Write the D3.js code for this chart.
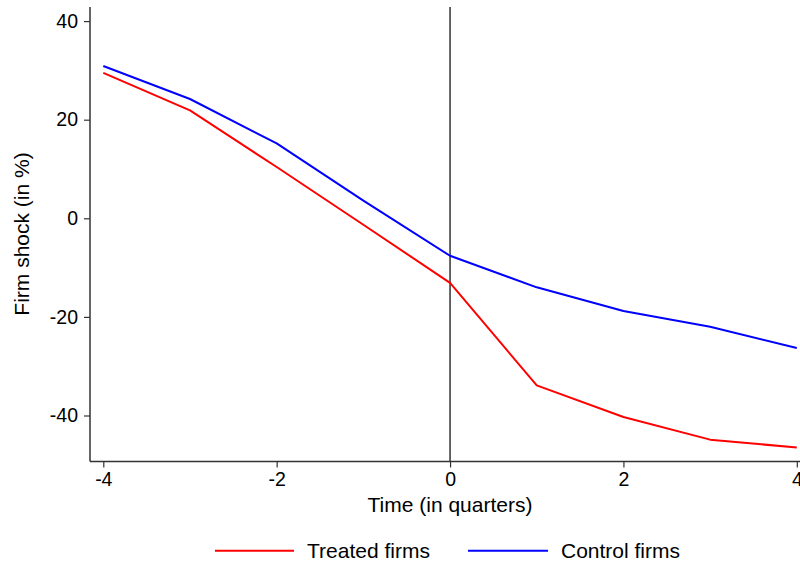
<!DOCTYPE html>
<html>
<head>
<meta charset="utf-8">
<script src="https://cdn.jsdelivr.net/npm/d3@7"></script>
<style>
  html, body { margin: 0; padding: 0; background: #fff; }
  svg { display: block; font-family: "Liberation Sans", Arial, Helvetica, sans-serif; }
</style>
</head>
<body>
<svg id="chart" width="800" height="565"></svg>
<script>
const quarters = [-4, -3, -2, -1, 0, 1, 2, 3, 4];
const treated = [29.5, 21.9, 10.4, -1.3, -13.1, -33.9, -40.3, -44.9, -46.5];
const control = [30.9, 24.2, 15.2, 3.6, -7.6, -14.0, -18.8, -22.0, -26.3];
const xTicks = [-4, -2, 0, 2, 4];
const yTicks = [-40, -20, 0, 20, 40];
const seriesNames = ["Treated firms", "Control firms"];
const seriesColors = ["#ff0000", "#0000ff"];

const svg = d3.select("#chart");
const x = d3.scaleLinear().domain([-4, 4]).range([103.3, 796.8]);
const y = d3.scaleLinear().domain([-40, 40]).range([415.5, 21.1]);
const axisLeftX = 90, axisBottomY = 461.5, plotTop = 7, plotRight = 800;
const axisColor = "#333";

// y axis
const yAxis = svg.append("g").attr("transform", `translate(${axisLeftX},0)`)
  .call(d3.axisLeft(y).tickValues(yTicks).tickSize(6).tickPadding(6).tickFormat(d3.format("d")));
yAxis.select(".domain").remove();
yAxis.selectAll(".tick line").attr("stroke", axisColor).attr("stroke-width", 1.2);
yAxis.selectAll(".tick text").attr("font-size", "19.5px").attr("fill", "#000")
  .attr("font-family", "Liberation Sans, Arial, sans-serif").text(d => d < 0 ? "-" + Math.abs(d) : d);

// x axis
const xAxis = svg.append("g").attr("transform", `translate(0,${axisBottomY})`)
  .call(d3.axisBottom(x).tickValues(xTicks).tickSize(6).tickPadding(5).tickFormat(d3.format("d")));
xAxis.select(".domain").remove();
xAxis.selectAll(".tick line").attr("stroke", axisColor).attr("stroke-width", 1.2);
xAxis.selectAll(".tick text").attr("font-size", "19.5px").attr("fill", "#000")
  .attr("font-family", "Liberation Sans, Arial, sans-serif").text(d => d < 0 ? "-" + Math.abs(d) : d);

// axis lines
svg.append("line").attr("x1", axisLeftX).attr("x2", axisLeftX).attr("y1", plotTop).attr("y2", axisBottomY)
  .attr("stroke", axisColor).attr("stroke-width", 1.5);
svg.append("line").attr("x1", axisLeftX).attr("x2", plotRight).attr("y1", axisBottomY).attr("y2", axisBottomY)
  .attr("stroke", axisColor).attr("stroke-width", 1.5);

// vertical reference line at 0
svg.append("line").attr("x1", x(0)).attr("x2", x(0)).attr("y1", plotTop).attr("y2", axisBottomY)
  .attr("stroke", "#333").attr("stroke-width", 1.5);

// lines
const line = d3.line().x((d, i) => x(quarters[i])).y(d => y(d));
[treated, control].forEach((s, k) => {
  svg.append("path").datum(s).attr("d", line).attr("fill", "none")
    .attr("stroke", seriesColors[k]).attr("stroke-width", 2).attr("stroke-linejoin", "round");
});

// titles
svg.append("text").attr("x", 450).attr("y", 512).attr("text-anchor", "middle")
  .attr("font-size", "21px").attr("fill", "#000").text("Time (in quarters)");
svg.append("text").attr("transform", "translate(29,234) rotate(-90)").attr("text-anchor", "middle")
  .attr("font-size", "21px").attr("fill", "#000").text("Firm shock (in %)");

// legend
const legendItems = [
  { x1: 215, x2: 294, tx: 307 },
  { x1: 468, x2: 548, tx: 561 }
];
legendItems.forEach((it, k) => {
  svg.append("line").attr("x1", it.x1).attr("x2", it.x2).attr("y1", 550.7).attr("y2", 550.7)
    .attr("stroke", seriesColors[k]).attr("stroke-width", 2);
  svg.append("text").attr("x", it.tx).attr("y", 558).attr("font-size", "21px").attr("fill", "#000")
    .text(seriesNames[k]);
});
</script>
</body>
</html>
